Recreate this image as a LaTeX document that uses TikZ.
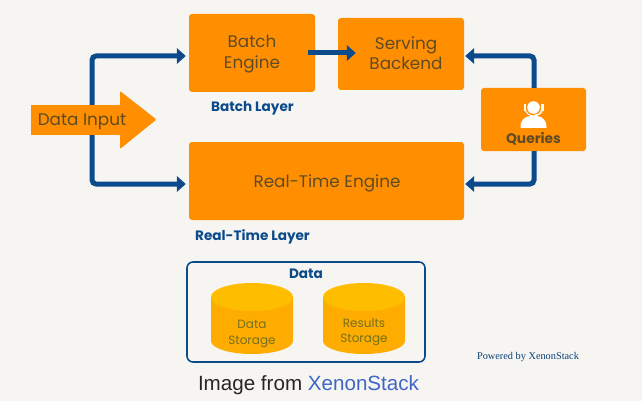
\documentclass[tikz,border=0pt]{standalone}
\usepackage{fontspec}
\setmainfont{Poppins}
\newfontfamily\captionfont{Liberation Sans}
\newfontfamily\creditfont{Liberation Serif}
\usetikzlibrary{arrows.meta}
\definecolor{canvas}{HTML}{F7F5F2}
\definecolor{boxorange}{HTML}{FF8F00}
\definecolor{inkbrown}{HTML}{5E4B26}
\definecolor{flowblue}{HTML}{0B4A8B}
\definecolor{drumside}{HTML}{FFAC00}
\definecolor{drumtop}{HTML}{FFBD00}
\definecolor{druminks}{HTML}{74701C}
\definecolor{linkblue}{HTML}{3F66C4}
\tikzset{
  x=1pt,y=-1pt,
  procbox/.style={fill=boxorange,rounded corners=3pt,inner sep=0pt},
  proctext/.style={anchor=base,inner sep=0pt,align=center,text=inkbrown,
    font=\fontsize{16.8}{20.5}\selectfont},
  layerlabel/.style={anchor=base,text=flowblue,font=\fontsize{13.6}{16}\selectfont\bfseries,inner sep=0pt},
  flow/.style={draw=flowblue,line width=5pt,rounded corners=4pt,
    -{Triangle[width=15.5pt,length=9pt]}},
  drumlabel/.style={anchor=base,text=druminks,align=center,inner sep=0pt,font=\fontsize{12}{15.5}\selectfont},
}
\newcommand{\drum}[2]{%
  \fill[drumside] (#1-41,297) -- (#1-41,341) arc[x radius=41,y radius=13,start angle=180,end angle=0]
    -- (#1+41,297) -- cycle;
  \fill[drumtop] (#1,#2) ellipse[x radius=41,y radius=14];
}
\begin{document}
\begin{tikzpicture}
  \useasboundingbox[fill=canvas] (0,0) rectangle (642,401);

  % processing blocks
  \node[procbox,minimum width=126pt,minimum height=78pt] (batch) at (252,53) {};
  \node[procbox,minimum width=126pt,minimum height=72pt] (serving) at (401,54) {};
  \node[procbox,minimum width=275pt,minimum height=78pt] (realtime) at (326.5,181) {};
  \node[procbox,minimum width=105pt,minimum height=63pt] (queries) at (533.5,119.5) {};

  % ingest arrow: the shaft is the node, the head is added after the connectors
  \node[fill=boxorange,minimum width=89pt,minimum height=30pt,inner sep=0pt] (input) at (75.5,120) {};
  \coordinate (splitup) at (92,56);
  \coordinate (splitdown) at (92,184);
  \coordinate (queryup) at (534,56);
  \coordinate (querydown) at (534,184);

  % connectors
  \draw[flow] (splitup |- input.north) -- (splitup) -- ([xshift=-3pt]batch.west |- splitup);
  \draw[flow] (splitdown |- input.south) -- (splitdown) -- ([xshift=-3pt]realtime.west |- splitdown);
  \draw[flow] (queryup |- queries.north) -- (queryup) -- ([xshift=1pt]serving.east |- queryup);
  \draw[flow] (querydown |- queries.south) -- (querydown) -- ([xshift=1pt]realtime.east |- querydown);
  \draw[flow] ([xshift=-7pt]batch.east) -- ([xshift=18pt]serving.west |- batch.east);

  % arrow head of the ingest block
  \fill[boxorange,rounded corners=1pt] (120,91) -- (156.5,119.5) -- (120,149) -- cycle;

  % block captions
  \node[proctext] (inputtext) at (82,125) {Data Input};
  \node[proctext] (batchtext) at (252,68.5) {Batch\\Engine};
  \node[proctext] (servingtext) at (406,69.7) {Serving\\Backend};
  \node[proctext] (realtimetext) at (327,187) {Real-Time Engine};

  % operator with headset
  \fill[white] (520.5,128) .. controls (520,120) and (525,116.5) .. (530,116) -- (537,116)
     .. controls (542,116.5) and (547,120) .. (546.5,128) -- cycle;
  \fill[white] (533.5,107.5) circle[radius=6.3];
  \draw[white,line width=1pt] (525,107.5) arc[start angle=180,end angle=0,radius=8.5];
  \fill[white] (523.5,104.5) rectangle (526,111);
  \fill[white] (541,104.5) rectangle (543.5,111);
  \draw[white,line width=.8pt] (542.2,111) .. controls (541.5,114) and (538,115) .. (535,114.8);
  \node[anchor=base,text=inkbrown,font=\fontsize{13.8}{16}\selectfont\bfseries,inner sep=0pt] (querylabel) at (533.5,143.3) {Queries};

  % layer captions
  \node[layerlabel] (batchlayer) at (252.5,111.7) {Batch Layer};
  \node[layerlabel] (rtlayer) at (252.5,240) {Real-Time Layer};

  % data stores
  \node[draw=flowblue,line width=1.6pt,rounded corners=6pt,minimum width=238pt,minimum height=100pt,inner sep=0pt] (datastore) at (306,312) {};
  \node[layerlabel] (datatitle) at (306,278.3) {Data};
  \drum{252}{297}
  \drum{364}{297}
  \node[drumlabel] (drumone) at (252,344) {Data\\Storage};
  \node[drumlabel] (drumtwo) at (364,342.7) {Results\\Storage};

  % credits
  \node[anchor=base,inner sep=0pt,text=black!85,font=\captionfont\fontsize{20.6}{24}\selectfont] (imagecredit) at (308.5,390)
    {Image from \textcolor{linkblue}{XenonStack}};
  \node[anchor=base,inner sep=0pt,text=flowblue!85!black,font=\creditfont\fontsize{10.3}{12}\selectfont] (powered) at (528,359) {Powered by XenonStack};
\end{tikzpicture}
\end{document}
